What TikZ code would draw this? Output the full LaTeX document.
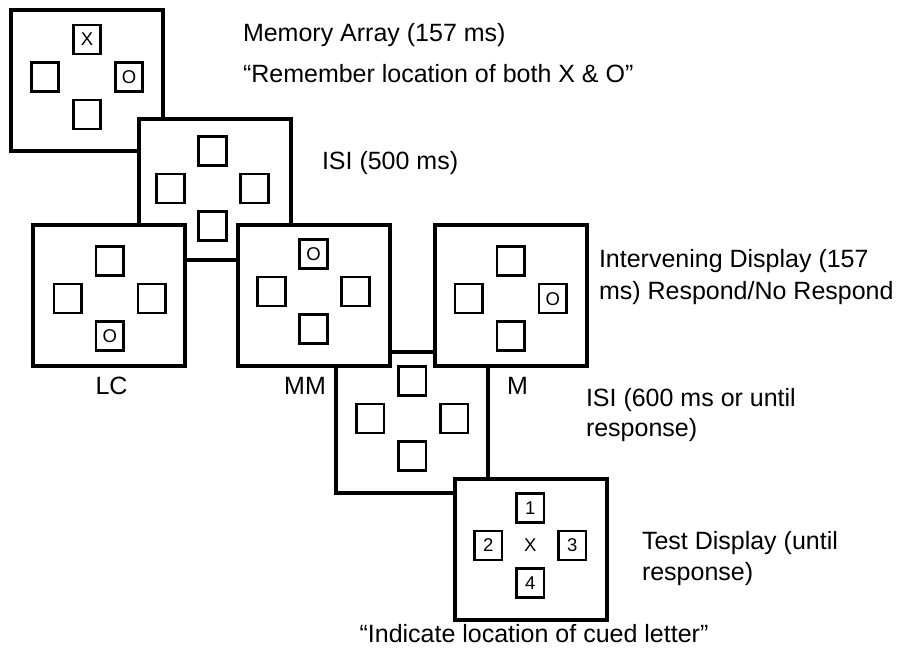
\documentclass[tikz,border=0pt]{standalone}
\usepackage{fontspec}
\setmainfont{Liberation Sans}
\begin{document}
\begin{tikzpicture}[x=1pt,y=-1pt,
  frame/.style={draw, line width=4.4pt, fill=white, outer sep=0pt, inner sep=0pt,
    minimum width=152pt, minimum height=141pt, anchor=north west},
  cell/.style={draw, line width=2.6pt, fill=white, outer sep=0pt, inner sep=0pt,
    minimum width=27.5pt, minimum height=29pt, font=\fontsize{18.5}{20}\selectfont},
  lbl/.style={inner sep=0pt, outer sep=0pt, font=\fontsize{25}{30}\selectfont},
]
\useasboundingbox (0,0) rectangle (898,652);

% four cells of a display, arranged as a diamond around (#2,#3)
\newcommand\cellset[7]{%
  \node[cell] (#1-t) at (#2,#3-37.5) {#4};
  \node[cell] (#1-l) at (#2-42,#3) {#5};
  \node[cell] (#1-r) at (#2+42,#3) {#6};
  \node[cell] (#1-b) at (#2,#3+37.5) {#7};
}

% memory array
\node[frame] (mem) at (11,10) {};
\cellset{mem}{87}{77}{X}{}{O}{}

% first ISI
\node[frame] (isia) at (139,119) {};
\cellset{isia}{212.5}{188.7}{}{}{}{}

% second ISI
\node[frame] (isib) at (336,352) {};
\cellset{isib}{412.3}{418.5}{}{}{}{}

% intervening displays
\node[frame] (lc) at (33,225) {};
\cellset{lc}{109.7}{298.7}{}{}{}{O}
\node[frame] (mm) at (238,225) {};
\cellset{mm}{313.5}{291.7}{O}{}{}{}
\node[frame] (m) at (435,225) {};
\cellset{m}{510.8}{298.7}{}{}{O}{}

% test display
\node[frame] (test) at (455,479) {};
\cellset{test}{530.3}{545.5}{1}{2}{3}{4}
\node[cell, draw=none, fill=none] (test-c) at (530.3,545.5) {X};

% labels
\node[lbl, anchor=base west] (mem-1) at (243,41.5) {Memory Array (157 ms)};
\node[lbl, anchor=base west] (mem-2) at (243,83) {“Remember location of both X \& O”};
\node[lbl, anchor=base west] (isia-1) at (322,170) {ISI (500 ms)};
\node[lbl, anchor=base west] (int-1) at (599,268) {Intervening Display (157};
\node[lbl, anchor=base west] (int-2) at (599,300) {ms) Respond/No Respond};
\node[lbl, anchor=base] (lc-lbl) at (111.5,395) {LC};
\node[lbl, anchor=base] (mm-lbl) at (305,395) {MM};
\node[lbl, anchor=base] (m-lbl) at (517.5,395) {M};
\node[lbl, anchor=base west] (isib-1) at (586,406.5) {ISI (600 ms or until};
\node[lbl, anchor=base west] (isib-2) at (586,436.5) {response)};
\node[lbl, anchor=base west] (test-1) at (642,550) {Test Display (until};
\node[lbl, anchor=base west] (test-2) at (642,580) {response)};
\node[lbl, anchor=base] (test-3) at (534,642) {“Indicate location of cued letter”};
\end{tikzpicture}
\end{document}
